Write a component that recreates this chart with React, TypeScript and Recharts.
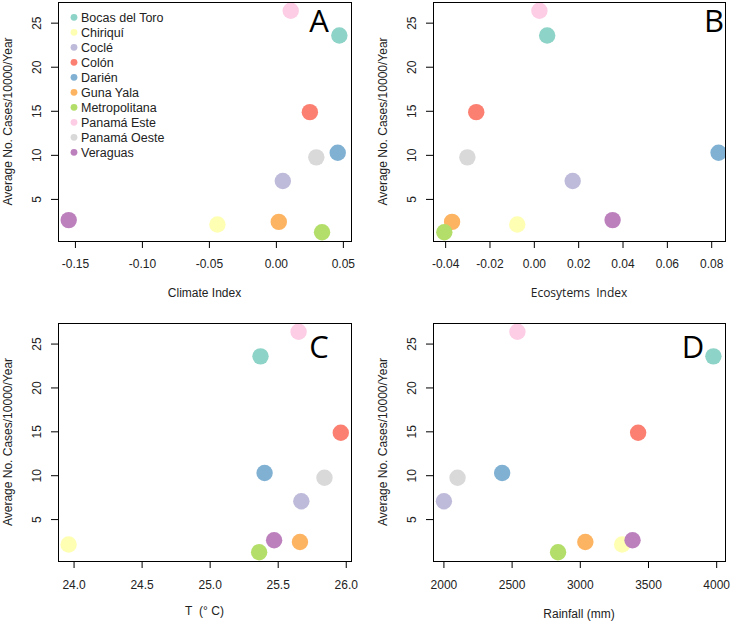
import { ScatterChart, Scatter, Cell, XAxis, YAxis, Label } from 'recharts';

// regiones de salud, en el orden de la leyenda
const REGIONS = ['Bocas del Toro', 'Chiriquí', 'Coclé', 'Colón', 'Darién', 'Guna Yala', 'Metropolitana', 'Panamá Este', 'Panamá Oeste', 'Veraguas'];
const COLORS = ['#8DD3C7', '#FFFFB3', '#BEBADA', '#FB8072', '#80B1D3', '#FDB462', '#B3DE69', '#FCCDE5', '#D9D9D9', '#BC80BD'];

const CASES = [23.6, 2.16, 7.08, 14.9, 10.3, 2.45, 1.28, 26.4, 9.77, 2.65];
const CLIMATE_INDEX = [0.047, -0.044, 0.0048, 0.025, 0.0458, 0.0018, 0.0341, 0.0107, 0.0298, -0.155];
const ECOSYSTEMS_INDEX = [0.0058, -0.0077, 0.0173, -0.0262, 0.0831, -0.0371, -0.0406, 0.0023, -0.0302, 0.0353];
const TEMPERATURE = [25.37, 23.96, 25.67, 25.96, 25.4, 25.66, 25.36, 25.65, 25.84, 25.47];
const RAINFALL = [3976, 3307, 2000, 3424, 2427, 3037, 2837, 2539, 2100, 3383];

const CASE_TICKS = [5, 10, 15, 20, 25];
const CLIMATE_TICKS = [-0.15, -0.1, -0.05, 0, 0.05];
const ECO_TICKS = [-0.04, -0.02, 0, 0.02, 0.04, 0.06, 0.08];
const TEMP_TICKS = [24, 24.5, 25, 25.5, 26];
const RAIN_TICKS = [2000, 2500, 3000, 3500, 4000];

const Y_DOMAIN: [number, number] = [0.28, 27.4];
const FONT = '"Liberation Sans", Arial, sans-serif';
const W = 367;
const H = 311;

// marca + etiqueta girada del eje Y (la marca como rect relleno)
const YTick = (props: any) => {
  const { x, y, payload } = props;
  const bx = x - 9.7;
  return (
    <g>
      <rect x={x} y={y - 0.5} width={7} height={1} fill="#000" />
      <text x={bx} y={y} transform={`rotate(-90 ${bx} ${y})`} textAnchor="middle" fontSize={12} fontFamily={FONT} fill="#222">
        {payload.value}
      </text>
    </g>
  );
};

interface PanelProps {
  xs: number[];
  domain: [number, number];
  ticks: number[];
  fmt: (v: number) => string;
  xLabel: string;
  xLabelFont?: string;
  left: number;
  top: number;
  marginTop: number;
  marginRight: number;
  yWidth: number;
  xHeight: number;
  tickMargin: number;
  titleGap: number;
}

function Panel(p: PanelProps) {
  const data = REGIONS.map((name, i) => ({ name, x: p.xs[i], y: CASES[i] }));
  const plotW = W - p.yWidth - p.marginRight;
  const plotH = H - p.marginTop - p.xHeight;

  const XTick = (tp: any) => {
    const { x, y, payload } = tp;
    const top = y - p.tickMargin - 7;
    return (
      <g>
        <rect x={x - 0.5} y={top} width={1} height={7} fill="#000" />
        <text x={x} y={y} dy="0.71em" textAnchor="middle" fontSize={12} fontFamily={FONT} fill="#222">
          {p.fmt(payload.value)}
        </text>
      </g>
    );
  };

  return (
    <div style={{ position: 'absolute', left: p.left, top: p.top, width: W, height: H }}>
      <ScatterChart width={W} height={H} margin={{ top: p.marginTop, right: p.marginRight, bottom: 0, left: 0 }}>
        <XAxis
          type="number"
          dataKey="x"
          domain={p.domain}
          ticks={p.ticks}
          allowDataOverflow
          axisLine={false}
          tickLine={false}
          tickSize={7}
          tickMargin={p.tickMargin}
          tick={<XTick />}
          height={p.xHeight}
        >
          <Label
            content={(lp: any) => {
              const vb = lp.viewBox;
              return (
                <text x={vb.x + vb.width / 2} y={vb.y + p.titleGap} dy="0.35em" textAnchor="middle" fontSize={12} fontFamily={p.xLabelFont ?? FONT} fill="#222">
                  {p.xLabel}
                </text>
              );
            }}
          />
        </XAxis>
        <YAxis
          type="number"
          dataKey="y"
          domain={Y_DOMAIN}
          ticks={CASE_TICKS}
          allowDataOverflow
          axisLine={false}
          tickLine={false}
          tickSize={7}
          tickMargin={0}
          tick={<YTick />}
          width={p.yWidth}
        >
          <Label
            content={(lp: any) => {
              const vb = lp.viewBox;
              const cx = vb.x + vb.width - 50;
              const cy = vb.y + vb.height / 2;
              return (
                <text x={cx} y={cy} dy="0.35em" transform={`rotate(-90 ${cx} ${cy})`} textAnchor="middle" fontSize={12} fontFamily={FONT} fill="#222">
                  Average No. Cases/10000/Year
                </text>
              );
            }}
          />
        </YAxis>
        <Scatter
          data={data}
          isAnimationActive={false}
          shape={(sp: any) => <circle cx={sp.cx} cy={sp.cy} r={8.2} fill={sp.fill} />}
        >
          {data.map((d, i) => (
            <Cell key={d.name} fill={COLORS[i]} />
          ))}
        </Scatter>
      </ScatterChart>
      {/* marco del área de trazado */}
      <div
        style={{
          position: 'absolute',
          left: p.yWidth - 0.5,
          top: p.marginTop - 0.5,
          width: plotW - 1,
          height: plotH - 1,
          border: '1px solid #000',
          pointerEvents: 'none',
        }}
      />
    </div>
  );
}

const LETTERS = [
  { t: 'A', x: 319, y: 32 },
  { t: 'B', x: 714, y: 32 },
  { t: 'C', x: 319, y: 358 },
  { t: 'D', x: 693, y: 358 },
];

export default function App() {
  return (
    <div style={{ position: 'absolute', left: 0, top: 0, width: 734, height: 622 }}>
      <Panel xs={CLIMATE_INDEX} domain={[-0.163, 0.0557]} ticks={CLIMATE_TICKS} fmt={(v) => v.toFixed(2)} xLabel="Climate Index"
        left={0} top={0} marginTop={2} marginRight={16} yWidth={58} xHeight={70} tickMargin={11} titleGap={52} />
      <Panel xs={ECOSYSTEMS_INDEX} domain={[-0.0457, 0.086]} ticks={ECO_TICKS} fmt={(v) => v.toFixed(2)} xLabel={'Ecosytems\u00A0\u00A0Index'} xLabelFont='"Open Sans", sans-serif'
        left={367} top={0} marginTop={2} marginRight={9} yWidth={66} xHeight={70} tickMargin={11} titleGap={52} />
      <Panel xs={TEMPERATURE} domain={[23.882, 26.035]} ticks={TEMP_TICKS} fmt={(v) => v.toFixed(1)} xLabel={'T\u00A0\u00A0(\u00B0\u00A0C)'}
        left={0} top={311} marginTop={12} marginRight={16} yWidth={58} xHeight={61} tickMargin={12} titleGap={50} />
      <Panel xs={RAINFALL} domain={[1920, 4061]} ticks={RAIN_TICKS} fmt={(v) => String(v)} xLabel="Rainfall (mm)"
        left={367} top={311} marginTop={12} marginRight={9} yWidth={66} xHeight={61} tickMargin={12} titleGap={53} />

      {/* leyenda y letras de panel */}
      <svg width={734} height={622} style={{ position: 'absolute', left: 0, top: 0, pointerEvents: 'none' }}>
        {REGIONS.map((name, i) => (
          <g key={name}>
            <circle cx={74} cy={17.3 + i * 15} r={3.4} fill={COLORS[i]} />
            <text x={81} y={17.3 + i * 15} dy="0.35em" fontSize={12.5} fontFamily={FONT} fill="#222">{name}</text>
          </g>
        ))}
        {LETTERS.map((l) => (
          <text key={l.t} x={l.x} y={l.y} textAnchor="middle" fontSize={31} fontFamily='"Open Sans", sans-serif' fill="#000">{l.t}</text>
        ))}
      </svg>
    </div>
  );
}
